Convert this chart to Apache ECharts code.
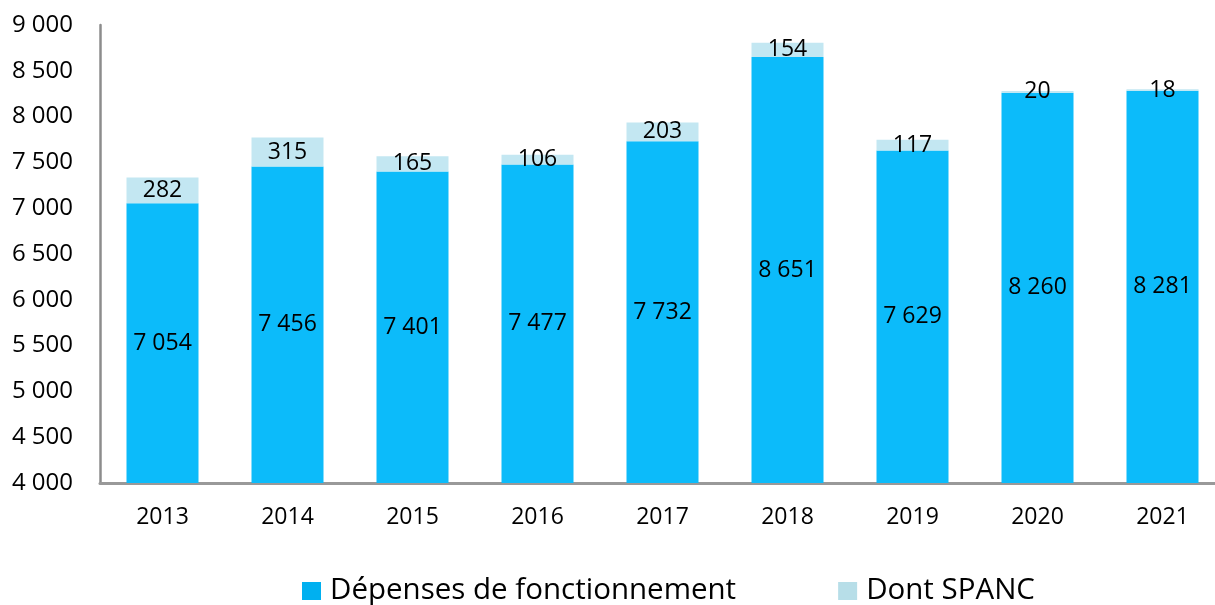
<!DOCTYPE html>
<html><head><meta charset="utf-8">
<script src="https://cdn.jsdelivr.net/npm/echarts@6/dist/echarts.min.js"></script>
<style>html,body{margin:0;padding:0;background:#fff}#c{width:1215px;height:605px}</style>
</head><body><div id="c"></div>
<script>
const categories = ['2013','2014','2015','2016','2017','2018','2019','2020','2021'];
const depenses = [7054, 7456, 7401, 7477, 7732, 8651, 7629, 8260, 8281];
const spanc = [282, 315, 165, 106, 203, 154, 117, 20, 18];
const seriesNames = ['Dépenses de fonctionnement', 'Dont SPANC'];

const FONT = '"Open Sans", sans-serif';
const fmt = v => String(v).replace(/\B(?=(\d{3})+(?!\d))/g, ' ');
const chart = echarts.init(document.getElementById('c'), null, {renderer:'canvas'});
chart.setOption({
  animation: false,
  textStyle: {fontFamily: FONT},
  grid: {left: 100, width: 1125, top: 25, bottom: 122, containLabel: false, outerBoundsMode: 'none'},
  legend: {
    top: 576, left: 302, padding: 0, icon: 'rect', itemWidth: 19, itemHeight: 18, itemGap: 102,
    textStyle: {fontFamily: FONT, fontSize: 29.5, lineHeight: 28, color: '#000', padding: [0,0,0,4]},
    data: [
      {name: seriesNames[0], itemStyle: {color: '#00B0F0'}},
      {name: seriesNames[1], itemStyle: {color: '#B7DEE8'}}
    ]
  },
  xAxis: {
    type: 'category', data: categories,
    axisLine: {lineStyle: {color: '#999', width: 3}},
    axisTick: {show: false},
    axisLabel: {fontSize: 23, color: '#000', margin: 23, fontFamily: FONT}
  },
  yAxis: {
    type: 'value', min: 4000, max: 9000, interval: 500,
    axisLine: {show: true, lineStyle: {color: '#8c8c8c', width: 2.5}},
    axisTick: {show: false},
    splitLine: {show: false},
    axisLabel: {fontSize: 24, color: '#000', margin: 27, fontFamily: FONT, formatter: fmt}
  },
  series: [
    {
      name: seriesNames[0], type: 'bar', stack: 'a', data: depenses, barWidth: 72,
      itemStyle: {color: '#0CBBFA'},
      label: {show: true, position: 'inside', color: '#000', fontSize: 23, fontFamily: FONT, formatter: p => fmt(p.value)}
    },
    {
      name: seriesNames[1], type: 'bar', stack: 'a', data: spanc, barWidth: 72,
      itemStyle: {color: '#C3E7F2'},
      label: {show: true, position: 'inside', color: '#000', fontSize: 23, fontFamily: FONT, formatter: p => fmt(p.value)}
    }
  ]
});
</script></body></html>
